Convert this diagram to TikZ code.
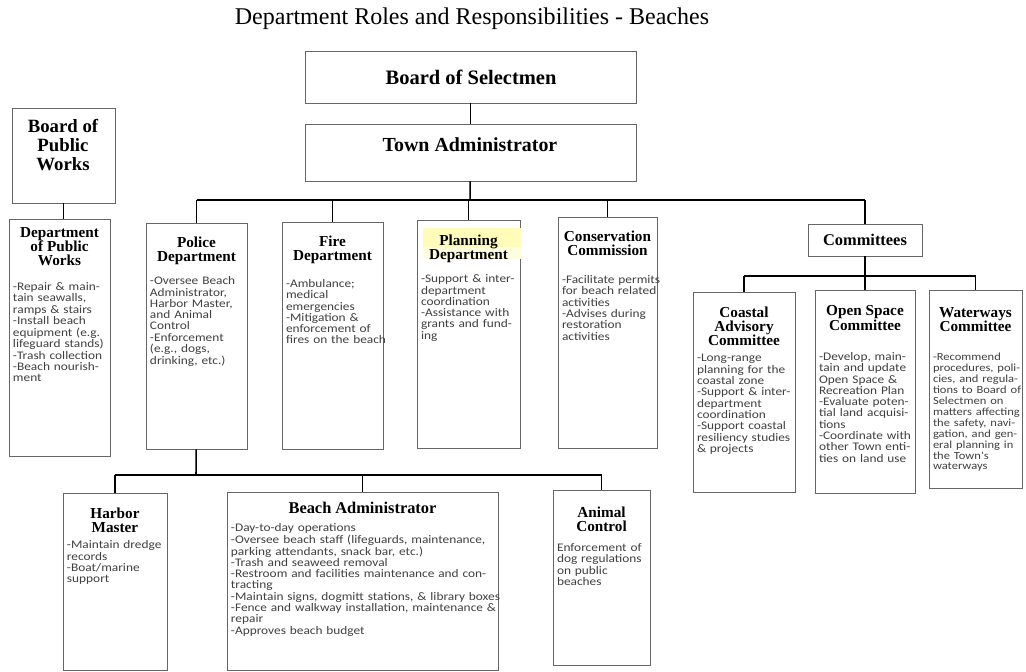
\documentclass[tikz,border=0pt]{standalone}
\usepackage{fontspec}
\setmainfont{Liberation Serif}
\newfontfamily\bodyfont[FakeStretch=1.15]{Carlito}
\usetikzlibrary{fit,shadows}
\setlength{\parindent}{0pt}
\newcommand{\unitfont}{\fontsize{13}{12}\selectfont\bfseries}
\newcommand{\dutyfont}{\bodyfont\fontsize{9.9}{9.3}\selectfont\color{black!75}}

\begin{document}
\begin{tikzpicture}[
	x=0.03cm, y=-0.03cm,
	unit/.style={draw=black!60, line width=.6pt, fill=white, inner sep=0pt,
		drop shadow={shadow xshift=.5pt, shadow yshift=-1.2pt, opacity=.45}},
	unittext/.style={anchor=north, inner sep=0pt, text width=#1, align=left},
	link/.style={line width=1.3pt}
	]
	\useasboundingbox (0,0) rectangle (1026,672);

	\node[font=\fontsize{20.5}{24}\selectfont] (title) at (472,19)
		{Department Roles and Responsibilities - Beaches};

	% top of the chart
	\node[unit, fit={(305,51) (636,103)}] (selectmen) {};
	\node[font=\fontsize{17.5}{20}\selectfont\bfseries] (selectmen-t) at (471,77) {Board of Selectmen};
	\node[unit, fit={(305,124) (636,181)}] (townadmin) {};
	\node[font=\fontsize{17}{20}\selectfont\bfseries] (townadmin-t) at (470,145) {Town Administrator};

	\node[unit, fit={(12,108) (115,203)}] (bpw) {};
	\node[align=center, font=\fontsize{16}{16.5}\selectfont\bfseries] (bpw-t) at (63,145)
		{Board of\\Public\\Works};

	% departments
	\node[unit, fit={(9,219) (110,456)}] (dpw) {};
	\node[unit, fit={(146,223) (247,449)}] (police) {};
	\node[unit, fit={(282,222) (383,449)}] (fire) {};
	\node[unit, fit={(417,220) (520,448)}] (planning) {};
	\node[unit, fit={(558,217) (657,448)}] (conservation) {};
	\node[unit, fit={(808,224) (922,256)}] (committees) {};
	\node[font=\fontsize{14}{16}\selectfont\bfseries] (committees-t) at (865,240) {Committees};

	% committees
	\node[unit, fit={(693,292) (795,492)}] (coastal) {};
	\node[unit, fit={(815,290) (915,493)}] (openspace) {};
	\node[unit, fit={(929,290) (1022,488)}] (waterways) {};

	% under the police
	\node[unit, fit={(63,493) (167,670)}] (harbor) {};
	\node[unit, fit={(227,492) (498,670)}] (beachadmin) {};
	\node[unit, fit={(553,490) (650,665)}] (animal) {};

	\fill[yellow!28] (423,228) rectangle (521,247); % highlight
	\fill[yellow!12] (423,247) rectangle (521,259);

	\node[unittext=2.79cm] (dpw-t) at ([yshift=-.27cm]dpw.north)
		{{\centering\unitfont Department\\of Public\\Works\par}\vspace{9pt}
		\dutyfont\begin{tabular}[t]{@{}l@{}}-Repair \& main-\\tain seawalls,\\ramps \& stairs\\-Install beach\\equipment (e.g.\\lifeguard stands)\\-Trash collection\\-Beach nourish-\\ment\end{tabular}};
	\node[unittext=2.79cm] (police-t) at ([yshift=-.42cm]police.north)
		{{\centering\unitfont Police\\Department\par}\vspace{7.8pt}
		\dutyfont\begin{tabular}[t]{@{}l@{}}-Oversee Beach\\Administrator,\\Harbor Master,\\and Animal\\Control\\-Enforcement\\(e.g., dogs,\\drinking, etc.)\end{tabular}};
	\node[unittext=2.79cm] (fire-t) at ([yshift=-.42cm]fire.north)
		{{\centering\unitfont Fire\\Department\par}\vspace{11pt}
		\dutyfont\begin{tabular}[t]{@{}l@{}}-Ambulance;\\medical\\emergencies\\-Mitigation \&\\enforcement of\\fires on the beach\end{tabular}};
	\node[unittext=2.85cm] (planning-t) at ([yshift=-.45cm]planning.north)
		{{\centering\unitfont Planning\\Department\par}\vspace{7.8pt}
		\dutyfont\begin{tabular}[t]{@{}l@{}}-Support \& inter-\\department\\coordination\\-Assistance with\\grants and fund-\\ing\end{tabular}};
	\node[unittext=2.73cm] (conservation-t) at ([yshift=-.42cm]conservation.north)
		{{\centering\unitfont Conservation\\Commission\par}\vspace{12pt}
		\dutyfont\begin{tabular}[t]{@{}l@{}}-Facilitate permits\\for beach related\\activities\\-Advises during\\restoration\\activities\end{tabular}};

	\node[unittext=2.82cm] (coastal-t) at ([yshift=-.45cm]coastal.north)
		{{\centering\unitfont Coastal\\Advisory\\Committee\par}\vspace{2pt}
		\dutyfont\begin{tabular}[t]{@{}l@{}}-Long-range\\planning for the\\coastal zone\\-Support \& inter-\\department\\coordination\\-Support coastal\\resiliency studies\\\& projects\end{tabular}};
	\node[unittext=2.76cm] (openspace-t) at ([yshift=-.48cm]openspace.north)
		{{\centering\unitfont Open Space\\Committee\par}\vspace{14pt}
		\dutyfont\begin{tabular}[t]{@{}l@{}}-Develop, main-\\tain and update\\Open Space \&\\Recreation Plan\\-Evaluate poten-\\tial land acquisi-\\tions\\-Coordinate with\\other Town enti-\\ties on land use\end{tabular}};
	\node[unittext=2.55cm] (waterways-t) at ([yshift=-.54cm]waterways.north)
		{{\centering\unitfont Waterways\\Committee\par}\vspace{12.8pt}
		\dutyfont\fontsize{9.3}{9.3}\selectfont\begin{tabular}[t]{@{}l@{}}-Recommend\\procedures, poli-\\cies, and regula-\\tions to Board of\\Selectmen on\\matters affecting\\the safety, navi-\\gation, and gen-\\eral planning in\\the Town's\\waterways\end{tabular}};

	\node[unittext=2.88cm] (harbor-t) at ([yshift=-.45cm]harbor.north)
		{{\centering\unitfont Harbor\\Master\par}\vspace{2pt}
		\dutyfont\begin{tabular}[t]{@{}l@{}}-Maintain dredge\\records\\-Boat/marine\\support\end{tabular}};
	\node[unittext=7.89cm] (beachadmin-t) at ([yshift=-.3cm]beachadmin.north)
		{{\centering\fontsize{14}{12}\selectfont\bfseries Beach Administrator\par}\vspace{3.6pt}
		\dutyfont\begin{tabular}[t]{@{}l@{}}-Day-to-day operations\\-Oversee beach staff (lifeguards, maintenance,\\parking attendants, snack bar, etc.)\\-Trash and seaweed removal\\-Restroom and facilities maintenance and con-\\tracting\\-Maintain signs, dogmitt stations, \& library boxes\\-Fence and walkway installation, maintenance \&\\repair\\-Approves beach budget\end{tabular}};
	\node[unittext=2.67cm] (animal-t) at ([yshift=-.51cm]animal.north)
		{{\centering\unitfont Animal\\Control\par}\vspace{5.2pt}
		\dutyfont\begin{tabular}[t]{@{}l@{}}Enforcement of\\dog regulations\\on public\\beaches\end{tabular}};

	% connectors
	\coordinate (tabus) at (470,200);
	\coordinate (cbus) at (865,276);
	\coordinate (pbus) at (196,475);

	\draw[link, line width=1pt] (selectmen) -- (townadmin);
	\draw[link, line width=.9pt] (bpw) -- (bpw |- dpw.north);
	\draw[link] (townadmin) -- (tabus);
	\draw[link] (police.north |- tabus) -- (committees.north |- tabus);
	\foreach \n in {police,fire,planning,conservation,committees}
		\draw[link] (\n.north |- tabus) -- (\n.north);

	\draw[link] (committees) -- (cbus);
	\draw[link] (coastal.north |- cbus) -- (waterways.north |- cbus);
	\foreach \n in {coastal,openspace,waterways}
		\draw[link] (\n.north |- cbus) -- (\n.north);

	\draw[link] (police) -- (pbus);
	\draw[link] (harbor.north |- pbus) -- (animal.north |- pbus);
	\foreach \n in {harbor,beachadmin,animal}
		\draw[link] (\n.north |- pbus) -- (\n.north);
\end{tikzpicture}
\end{document}
